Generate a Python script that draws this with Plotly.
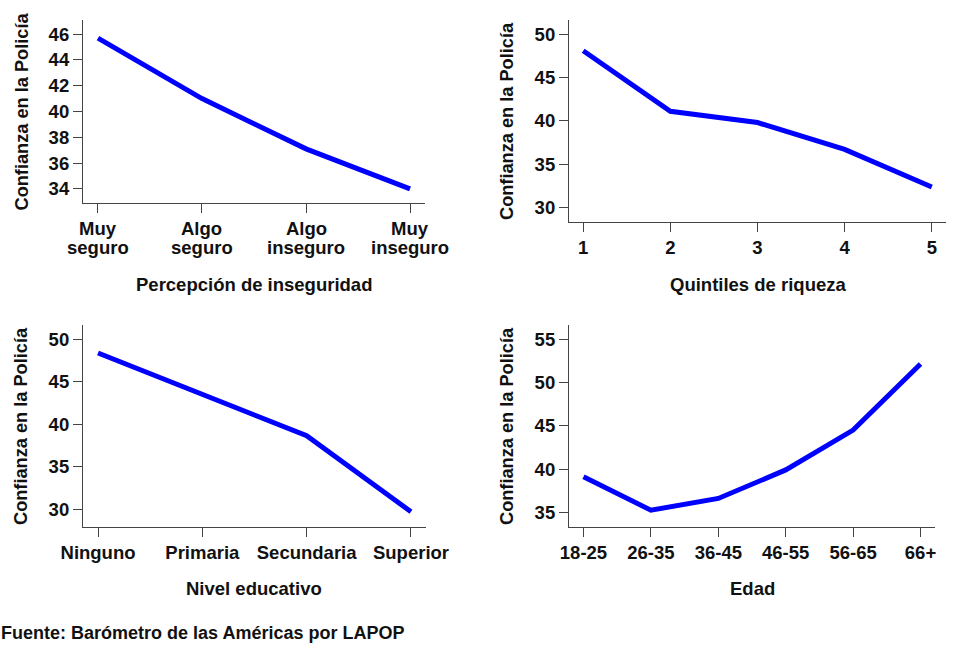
import plotly.graph_objects as go

ylabel = "Confianza en la Policía"

inseg_cats = ["Muy<br>seguro", "Algo<br>seguro", "Algo<br>inseguro", "Muy<br>inseguro"]
inseg_vals = [45.7, 41.0, 37.1, 34.0]

quint_cats = ["1", "2", "3", "4", "5"]
quint_vals = [48.1, 41.1, 39.8, 36.7, 32.35]

educ_cats = ["Ninguno", "Primaria", "Secundaria", "Superior"]
educ_vals = [48.4, 43.45, 38.65, 29.7]

edad_cats = ["18-25", "26-35", "36-45", "46-55", "56-65", "66+"]
edad_vals = [39.1, 35.25, 36.6, 39.9, 44.5, 52.15]

W, H = 973, 659
FONT = "Liberation Sans, Arial, sans-serif"
TXT = "#111111"
LINE = "#0000ff"
FS = 18.5

panels = [
    dict(cats=inseg_cats, vals=inseg_vals, title="Percepción de inseguridad", ty=284,
         px=(83, 425), py=(20, 203), yr=(32.9, 47.1), ytv=[34, 36, 38, 40, 42, 44, 46], xpad=0.144),
    dict(cats=quint_cats, vals=quint_vals, title="Quintiles de riqueza", ty=284,
         px=(569, 946), py=(20, 222), yr=(28.3, 51.65), ytv=[30, 35, 40, 45, 50], xpad=0.163),
    dict(cats=educ_cats, vals=educ_vals, title="Nivel educativo", ty=588,
         px=(83, 426), py=(325, 527), yr=(27.9, 51.7), ytv=[30, 35, 40, 45, 50], xpad=0.144),
    dict(cats=edad_cats, vals=edad_vals, title="Edad", ty=588,
         px=(569, 935), py=(325, 527), yr=(33.3, 56.65), ytv=[35, 40, 45, 50, 55], xpad=0.215),
]

fig = go.Figure()
annotations = []
for i, p in enumerate(panels, start=1):
    xs = list(range(len(p["cats"])))
    xa = "x" if i == 1 else f"x{i}"
    ya = "y" if i == 1 else f"y{i}"
    fig.add_trace(go.Scatter(x=xs, y=p["vals"], mode="lines", xaxis=xa, yaxis=ya,
                             line=dict(color=LINE, width=5), showlegend=False,
                             hoverinfo="skip"))
    x0, x1 = p["px"]
    y0, y1 = p["py"]
    xdom = [x0 / W, x1 / W]
    ydom = [(H - y1) / H, (H - y0) / H]
    n = len(p["cats"])
    multiline = any("<br>" in c for c in p["cats"])
    axis_common = dict(showline=True, linecolor="#444444", linewidth=1.2,
                       ticks="outside", ticklen=9, tickwidth=1.2, tickcolor="#444444",
                       showgrid=False, zeroline=False, automargin=False,
                       tickfont=dict(family=FONT, size=FS, color=TXT, weight="bold"))
    fig.update_layout(**{
        ("xaxis" if i == 1 else f"xaxis{i}"): dict(
            domain=xdom, anchor=ya, range=[-p["xpad"], n - 1 + p["xpad"]],
            tickmode="array", tickvals=xs, ticktext=p["cats"],
            showticklabels=not multiline, **axis_common),
        ("yaxis" if i == 1 else f"yaxis{i}"): dict(
            domain=ydom, anchor=xa, range=list(p["yr"]),
            tickmode="array", tickvals=p["ytv"], **axis_common),
    })
    if multiline:
        # two-line category labels with tight line spacing
        for xv, cat in zip(xs, p["cats"]):
            for k, part in enumerate(cat.split("<br>")):
                annotations.append(dict(text=f"<b>{part}</b>", xref=xa, yref="paper",
                                        x=xv, y=(H - (y1 + 26 + 18 * k)) / H,
                                        xanchor="center", yanchor="middle", showarrow=False,
                                        font=dict(family=FONT, size=FS, color=TXT)))
    # x title
    annotations.append(dict(text=f"<b>{p['title']}</b>", xref="paper", yref="paper",
                            x=(x0 + x1) / 2 / W, y=(H - p["ty"]) / H,
                            xanchor="center", yanchor="middle", showarrow=False,
                            font=dict(family=FONT, size=FS, color=TXT)))
    # y title
    annotations.append(dict(text=f"<b>{ylabel}</b>", xref="paper", yref="paper",
                            x=(x0 - 62) / W, y=(H - (y0 + y1) / 2) / H,
                            xanchor="center", yanchor="middle", textangle=-90, showarrow=False,
                            font=dict(family=FONT, size=18.2, color=TXT)))

annotations.append(dict(text="<b>Fuente: Barómetro de las Américas por LAPOP</b>",
                        xref="paper", yref="paper", x=-1 / W, y=(H - 633) / H,
                        xanchor="left", yanchor="middle", showarrow=False,
                        font=dict(family=FONT, size=18, color=TXT)))

fig.update_layout(width=W, height=H, margin=dict(l=0, r=0, t=0, b=0),
                  paper_bgcolor="white", plot_bgcolor="white",
                  annotations=annotations)

fig.write_html("out.html", config={"displayModeBar": False},
               post_script="document.body.style.margin='0px';document.body.style.overflow='hidden';")
